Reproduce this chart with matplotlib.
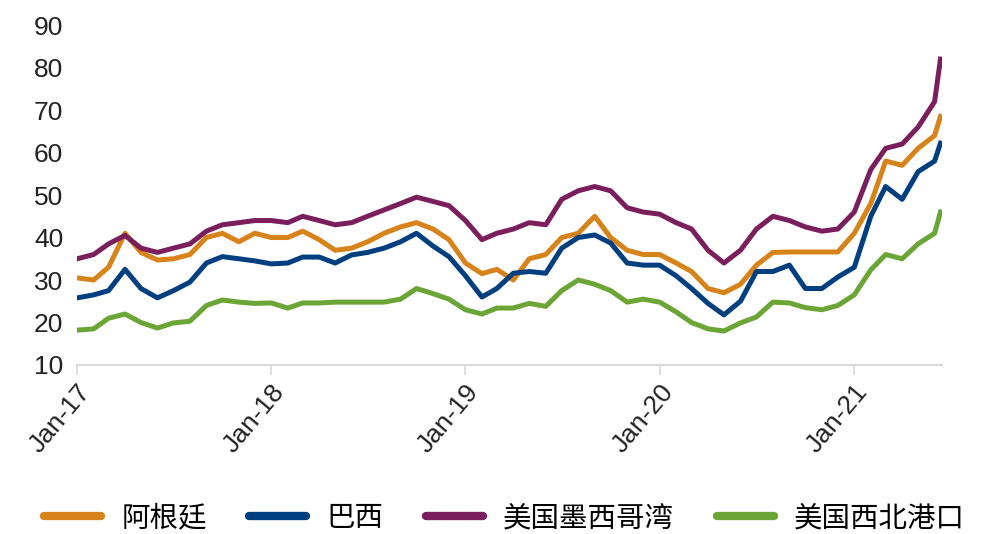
import numpy as np
import pandas as pd
import matplotlib
matplotlib.use('Agg')
import matplotlib.pyplot as plt
import matplotlib.dates as mdates

plt.rcParams['font.family'] = ['Liberation Sans', 'Noto Sans CJK SC', 'DejaVu Sans']

# monthly readings, Jan-2017 .. Jun-2021, plus the last print
dates = list(pd.date_range('2017-01-01', '2021-06-01', freq='MS')) + [pd.Timestamp('2021-06-12')]

argentina = [30.5, 30, 33, 41, 36.5, 34.7, 35, 36, 40, 41, 39, 41,
             40, 40, 41.5, 39.5, 37, 37.5, 39, 41, 42.5, 43.5, 42, 39.5,
             34, 31.5, 32.5, 30, 35, 36, 40, 41, 45, 40, 37, 36,
             36, 34, 32, 28, 27, 29, 33.5, 36.5, 36.6, 36.6, 36.6, 36.6,
             41, 48, 58, 57, 61, 64, 68.5]
brazil = [25.8, 26.5, 27.5, 32.5, 28, 25.8, 27.5, 29.5, 34, 35.5, 35, 34.5,
          33.8, 34, 35.4, 35.4, 34, 35.9, 36.5, 37.5, 39, 41, 38, 35.5,
          31, 26, 28, 31.6, 32, 31.6, 37.5, 40, 40.6, 38.7, 34, 33.5,
          33.5, 31, 28, 24.5, 21.8, 25, 32, 32, 33.5, 28, 28, 30.7,
          33, 45, 52, 49, 55.5, 58, 62.2]
us_gulf = [35, 36, 38.5, 40.5, 37.5, 36.5, 37.5, 38.5, 41.5, 43, 43.5, 44,
           44, 43.5, 45, 44, 43, 43.5, 45, 46.5, 48, 49.5, 48.5, 47.5,
           44, 39.5, 41, 42, 43.5, 43, 49, 51, 52, 51, 47, 46,
           45.5, 43.5, 42, 37, 34, 37, 42, 45, 44, 42.5, 41.5, 42,
           46, 56, 61, 62, 66, 72, 82]
us_pnw = [18.2, 18.5, 21, 22, 20, 18.7, 19.9, 20.3, 24, 25.3, 24.8, 24.5,
          24.6, 23.4, 24.6, 24.6, 24.8, 24.8, 24.8, 24.8, 25.5, 28, 26.8, 25.5,
          23, 22, 23.4, 23.4, 24.5, 23.8, 27.5, 30, 29, 27.5, 24.8, 25.5,
          24.8, 22.5, 20, 18.5, 18, 19.9, 21.3, 24.8, 24.6, 23.5, 23, 24,
          26.5, 32.4, 36, 35, 38.5, 41, 46]

names = ['阿根廷', '巴西', '美国墨西哥湾', '美国西北港口']
colors = ['#D8831A', '#003F7F', '#7A1F5C', '#6AA535']

fig = plt.figure(figsize=(9.89, 5.34), dpi=100)
ax = fig.add_axes([0.078, 0.3165, 0.874, 0.6365])

for vals, name, c in zip([argentina, brazil, us_gulf, us_pnw], names, colors):
    ax.plot(dates, vals, color=c, lw=3.6, label=name, solid_joinstyle='round')

ax.set_ylim(10, 90)
ax.set_yticks(range(10, 91, 10))
ax.set_xlim(pd.Timestamp('2017-01-01'), pd.Timestamp('2021-06-14'))
ax.xaxis.set_major_locator(mdates.YearLocator())
ax.xaxis.set_major_formatter(mdates.DateFormatter('%b-%y'))

for s in ['top', 'right', 'left']:
    ax.spines[s].set_visible(False)
ax.spines['bottom'].set_color('#D9D9D9')
ax.spines['bottom'].set_linewidth(1.5)
ax.tick_params(axis='y', length=0, labelsize=19, labelcolor='#222222', pad=10)
ax.tick_params(axis='x', length=7, width=1.2, color='#D9D9D9', labelsize=19,
               labelcolor='#222222', pad=4)
plt.setp(ax.get_xticklabels(), rotation=50, ha='right', rotation_mode='anchor')

leg = fig.legend(loc='lower center', ncol=4, frameon=False, fontsize=20.5,
                 bbox_to_anchor=(0.51, -0.045), handlelength=2.0, columnspacing=1.5,
                 handletextpad=0.7)
for h in leg.get_lines():
    h.set_linewidth(6)
    h.set_solid_capstyle('round')

fig.savefig('out.png', dpi=100)
